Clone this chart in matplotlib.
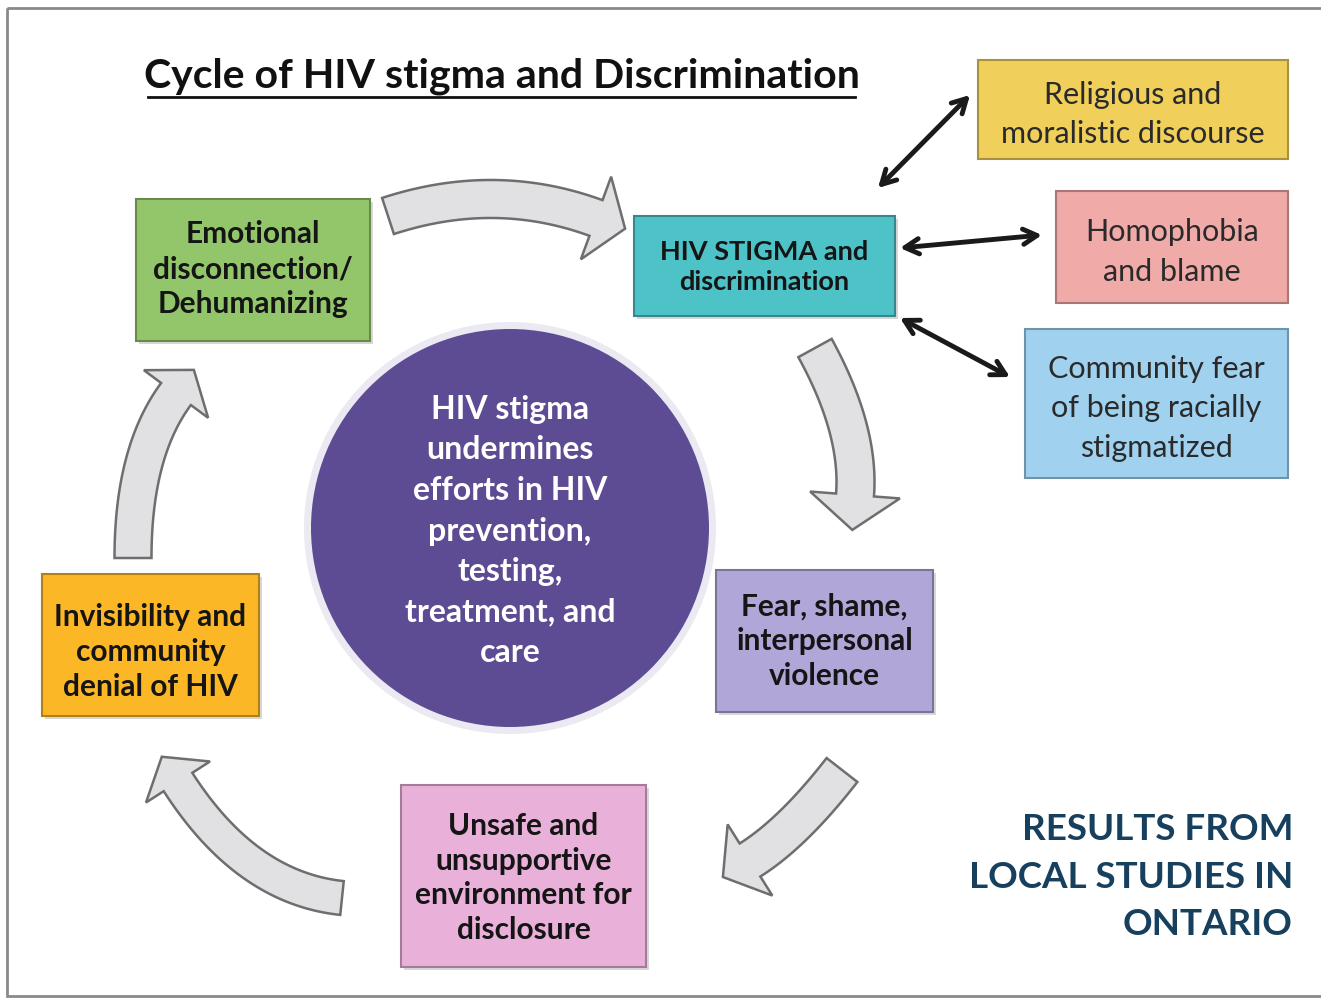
import numpy as np
import matplotlib.pyplot as plt
from matplotlib.patches import Rectangle, Circle, Polygon

plt.rcParams['font.family'] = ['Lato', 'DejaVu Sans']

# diagram content
title = "Cycle of HIV stigma and Discrimination"
cycle_labels = ["Emotional\ndisconnection/\nDehumanizing",
                "HIV STIGMA and\ndiscrimination",
                "Fear, shame,\ninterpersonal\nviolence",
                "Unsafe and\nunsupportive\nenvironment for\ndisclosure",
                "Invisibility and\ncommunity\ndenial of HIV"]
cycle_colors = ["#93c66b", "#4dc3c8", "#b1a6d8", "#e9b1d9", "#fbb726"]
side_labels = ["Religious and\nmoralistic discourse",
               "Homophobia\nand blame",
               "Community fear\nof being racially\nstigmatized"]
side_colors = ["#f0cf5a", "#f0aaa8", "#a0d2f0"]
center_text = "HIV stigma\nundermines\nefforts in HIV\nprevention,\ntesting,\ntreatment, and\ncare"
footer = "RESULTS FROM\nLOCAL STUDIES IN\nONTARIO"

# layout in pixel space (x0, y0, x1, y1)
cycle_boxes = [(136, 199, 370, 341), (634, 216, 895, 316), (716, 570, 933, 712),
               (401, 785, 646, 967), (42, 574, 259, 716)]
text_dy = [-2, 0, -1, 1, 6]
side_boxes = [(978, 60, 1288, 159), (1056, 191, 1288, 303), (1025, 329, 1288, 478)]


def darker(c, f=0.7):
    r, g, b = [int(c[i:i + 2], 16) / 255 for i in (1, 3, 5)]
    return (r * f, g * f, b * f)


def block_arrow(ax, p0, p1, p2, w, hw, hl):
    p0, p1, p2 = map(np.array, (p0, p1, p2))
    t = np.linspace(0, 1, 60)[:, None]
    pts = (1 - t) ** 2 * p0 + 2 * (1 - t) * t * p1 + t ** 2 * p2
    d = 2 * (1 - t) * (p1 - p0) + 2 * t * (p2 - p1)
    d = d / np.linalg.norm(d, axis=1)[:, None]
    n = np.column_stack([-d[:, 1], d[:, 0]])
    left = pts + n * w / 2
    right = pts - n * w / 2
    T, N = d[-1], n[-1]
    tip = p2 + T * hl
    poly = np.vstack([left, [p2 + N * hw], [tip], [p2 - N * hw], right[::-1]])
    ax.add_patch(Polygon(poly, closed=True, fc="#e1e1e3", ec="#6e6e6e", lw=1.8, zorder=2))


fig = plt.figure(figsize=(13.21, 9.98), dpi=100)
ax = fig.add_axes([0, 0, 1, 1])
ax.set_xlim(0, 1321)
ax.set_ylim(998, 0)
ax.axis('off')

ax.add_patch(Rectangle((7, 8), 1330, 988, fill=False, ec="#8a8a8a", lw=2, zorder=1))

# title with underline
ax.text(502, 76, title, ha='center', va='center', fontsize=29.5, fontweight='bold', color="#111111")
ax.plot([148, 855], [97, 97], color="#111111", lw=2)

# cycle boxes
for (x0, y0, x1, y1), lab, col, dy in zip(cycle_boxes, cycle_labels, cycle_colors, text_dy):
    ax.add_patch(Rectangle((x0 + 3, y0 + 3), x1 - x0, y1 - y0, fc="#d8d8d8", ec='none', zorder=2))
    ax.add_patch(Rectangle((x0, y0), x1 - x0, y1 - y0, fc=col, ec=darker(col), lw=1.5, zorder=3))
    fs = 19.5 if "STIGMA" in lab else 21.5
    ls = 1.35 if "STIGMA" in lab else 1.3
    ax.text((x0 + x1) / 2, (y0 + y1) / 2 + 1 + dy, lab, ha='center', va='center', fontsize=fs,
            fontweight='bold', color="#151515", linespacing=ls, zorder=4)

# side boxes
for (x0, y0, x1, y1), lab, col in zip(side_boxes, side_labels, side_colors):
    ax.add_patch(Rectangle((x0, y0), x1 - x0, y1 - y0, fc=col, ec=darker(col), lw=1.5, zorder=3))
    ax.text((x0 + x1) / 2, (y0 + y1) / 2 + 5, lab, ha='center', va='center', fontsize=22,
            color="#2a2a2a", linespacing=1.5, zorder=4)

# central circle
ax.add_patch(Circle((510, 528), 206, fc="#5d4b94", alpha=0.12, ec='none', zorder=2))
ax.add_patch(Circle((510, 528), 199, fc="#5d4b94", ec='none', zorder=3))
ax.text(510, 531, center_text, ha='center', va='center', fontsize=23, fontweight='bold',
        color="white", linespacing=1.48, zorder=4)

# cycle arrows
block_arrow(ax, (388, 216), (495, 181), (596, 218), 38, 44, 31)
block_arrow(ax, (815, 348), (860, 430), (855, 495), 38, 45, 35)
block_arrow(ax, (842, 770), (793, 833), (750, 860), 39, 42, 32)
block_arrow(ax, (342, 898), (246, 888), (178, 782), 34, 38, 30)
block_arrow(ax, (133, 558), (133, 452), (176, 394), 37, 40, 30)

# double-headed arrows to side factors
for a, b in [((878, 188), (970, 95)), ((900, 248), (1042, 235)), ((900, 318), (1010, 377))]:
    ax.annotate("", xy=b, xytext=a,
                arrowprops=dict(arrowstyle="<->,head_length=1.0,head_width=0.55",
                                lw=3.5, color="#1a1a1a", shrinkA=0, shrinkB=0), zorder=4)

ax.text(1293, 877, footer, ha='right', va='center', fontsize=26.5, fontweight='bold',
        color="#17405e", linespacing=1.55)

fig.savefig("out.png", dpi=100)
